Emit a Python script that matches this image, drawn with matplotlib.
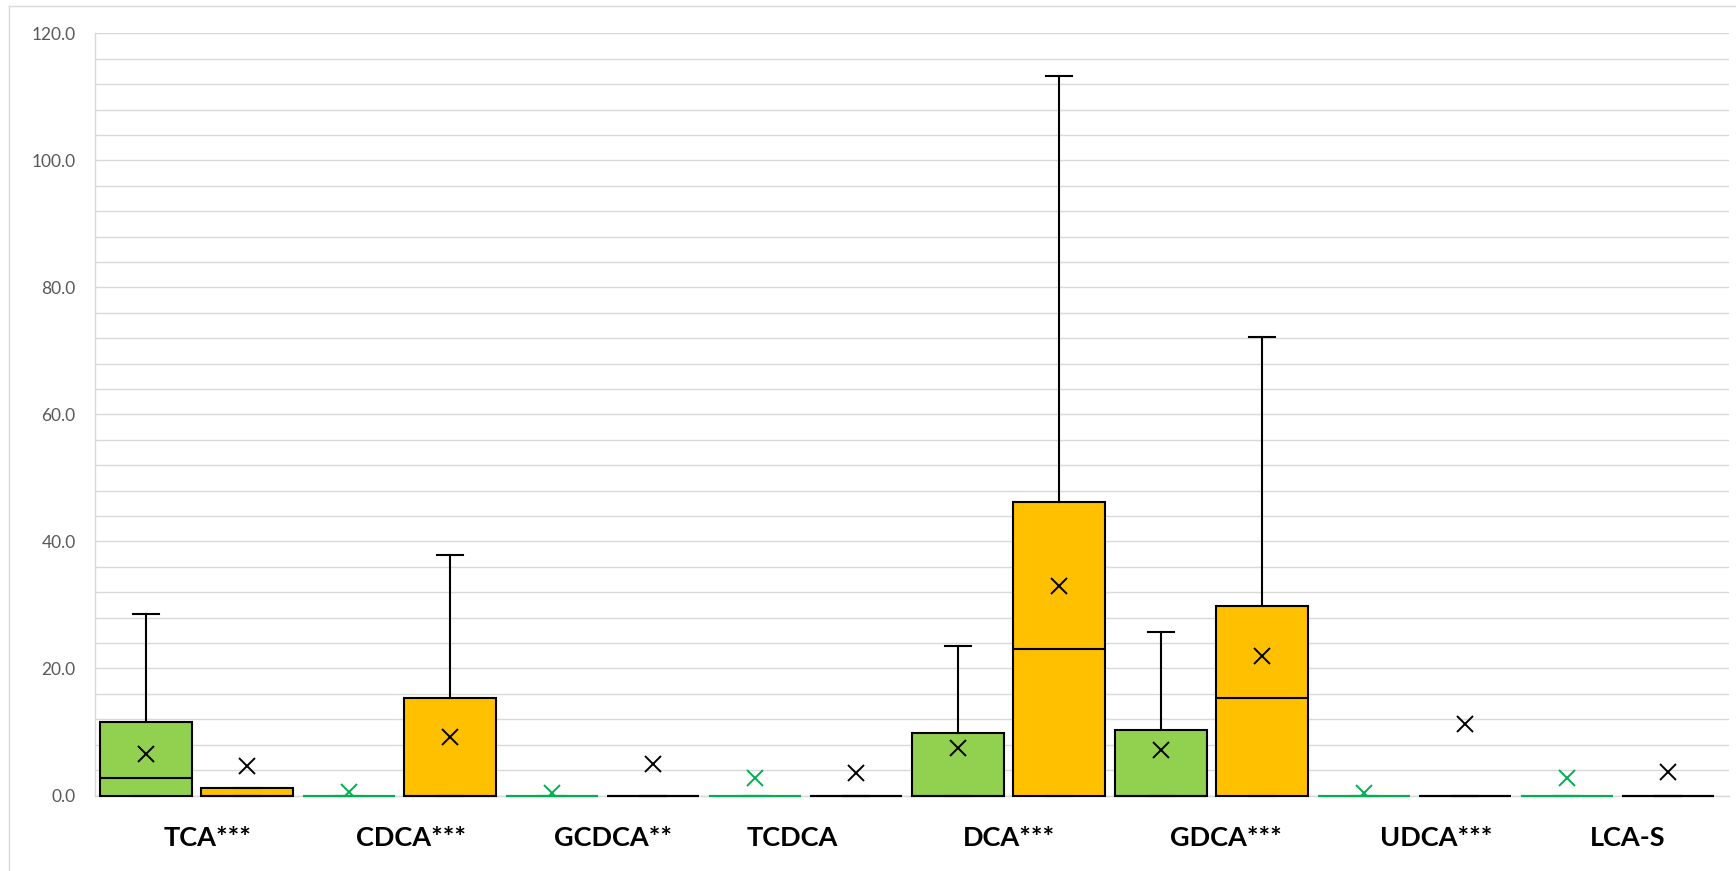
import matplotlib
matplotlib.use("Agg")
import matplotlib.pyplot as plt
import matplotlib.transforms as mtransforms
from matplotlib.lines import Line2D
import numpy as np

# Bile acid concentrations: two groups per compound (green = group A, orange = group B)
categories = ['TCA***', 'CDCA***', 'GCDCA**', 'TCDCA', 'DCA***', 'GDCA***', 'UDCA***', 'LCA-S']

a_min = [0, 0, 0, 0, 0, 0, 0, 0]
a_q1 = [0, 0, 0, 0, 0, 0, 0, 0]
a_med = [2.8, 0, 0, 0, 0, 0, 0, 0]
a_q3 = [11.6, 0, 0, 0, 9.8, 10.3, 0, 0]
a_max = [28.6, 0, 0, 0, 23.6, 25.7, 0, 0]
a_mean = [6.5, 0.6, 0.4, 2.8, 7.5, 7.2, 0.4, 2.8]

b_min = [0, 0, 0, 0, 0, 0, 0, 0]
b_q1 = [0, 0, 0, 0, 0, 0, 0, 0]
b_med = [0, 0, 0, 0, 23.0, 15.4, 0, 0]
b_q3 = [1.2, 15.4, 0, 0, 46.2, 29.9, 0, 0]
b_max = [1.2, 37.8, 0, 0, 113.3, 72.2, 0, 0]
b_mean = [4.7, 9.2, 5.0, 3.5, 33.0, 22.0, 11.3, 3.7]

y_ticks = [0, 20, 40, 60, 80, 100, 120]

# label nudges (pixels) for the category names
label_shift_px = [11, 11.5, 11, -13.5, 1, 14, 22, 10]

GREEN_FILL = '#92D050'
ORANGE_FILL = '#FFC000'
FLAT_GREEN = '#00B050'
GRID = '#D9D9D9'
TEXT_GRAY = '#595959'

fig = plt.figure(figsize=(17.36, 8.71), dpi=100)
ax = fig.add_axes([95 / 1736, 1 - 795.5 / 871, (1729 - 95) / 1736, (795.5 - 33.3) / 871])

box_w = 0.453
cap_w = 0.127
lw_box = 1.5


def draw_box(pos, lo, q1, med, q3, hi, mean, fill, flat_color):
    flat = (q3 == q1)
    edge = flat_color if flat else 'black'
    stats = [dict(whislo=lo, q1=q1, med=med, q3=q3, whishi=hi, mean=mean, fliers=[])]
    parts = ax.bxp(stats, positions=[pos], widths=box_w, patch_artist=True,
                   showmeans=True, showfliers=False, capwidths=cap_w,
                   boxprops=dict(facecolor=fill, edgecolor=edge, linewidth=lw_box),
                   medianprops=dict(color=edge, linewidth=lw_box),
                   whiskerprops=dict(color=edge, linewidth=lw_box),
                   capprops=dict(color=edge, linewidth=lw_box),
                   meanprops=dict(marker='x', markeredgecolor=edge, markerfacecolor=edge,
                                  markersize=12, markeredgewidth=1.4),
                   manage_ticks=False, zorder=3)
    for key in ('boxes', 'medians', 'whiskers', 'caps'):
        for artist in parts[key]:
            artist.set_clip_on(False)


for i in range(len(categories)):
    draw_box(i + 0.25, a_min[i], a_q1[i], a_med[i], a_q3[i], a_max[i], a_mean[i],
             GREEN_FILL, FLAT_GREEN)
    draw_box(i + 0.75, b_min[i], b_q1[i], b_med[i], b_q3[i], b_max[i], b_mean[i],
             ORANGE_FILL, 'black')

ax.set_xlim(0, 8.05)
ax.set_ylim(0, 120)

# y axis: labelled every 20, gridlines every 4
ax.set_yticks(y_ticks)
ax.set_yticklabels([f'{v:.1f}' for v in y_ticks], fontfamily='Lato', fontsize=12.5, color=TEXT_GRAY)
ax.set_yticks(np.arange(0, 121, 4), minor=True)
ax.grid(True, which='both', axis='y', color=GRID, linewidth=1.0, zorder=0)
ax.set_axisbelow(True)
ax.tick_params(axis='y', which='both', length=0, pad=14)
ax.tick_params(axis='x', which='both', length=0, labelbottom=False)

for s in ['top', 'right']:
    ax.spines[s].set_visible(False)
for s in ['left', 'bottom']:
    ax.spines[s].set_color(GRID)
    ax.spines[s].set_linewidth(1.0)
    ax.spines[s].set_zorder(0.5)

# category names below the axis
base = mtransforms.blended_transform_factory(ax.transData, ax.transAxes)
for i, name in enumerate(categories):
    tr = base + mtransforms.ScaledTranslation(label_shift_px[i] / 100, 0, fig.dpi_scale_trans)
    ax.text(i + 0.5, -0.056, name, transform=tr, ha='center', va='center',
            fontfamily='Lato', fontweight='bold', fontsize=19.5, color='black')

# chart-area border (left and top edges)
fig.add_artist(Line2D([9 / 1736, 9 / 1736], [0, 1 - 6 / 871], transform=fig.transFigure,
                      color=GRID, linewidth=1.0))
fig.add_artist(Line2D([9 / 1736, 1], [1 - 6 / 871, 1 - 6 / 871], transform=fig.transFigure,
                      color=GRID, linewidth=1.0))

fig.savefig('out.png', dpi=100, facecolor='white')
